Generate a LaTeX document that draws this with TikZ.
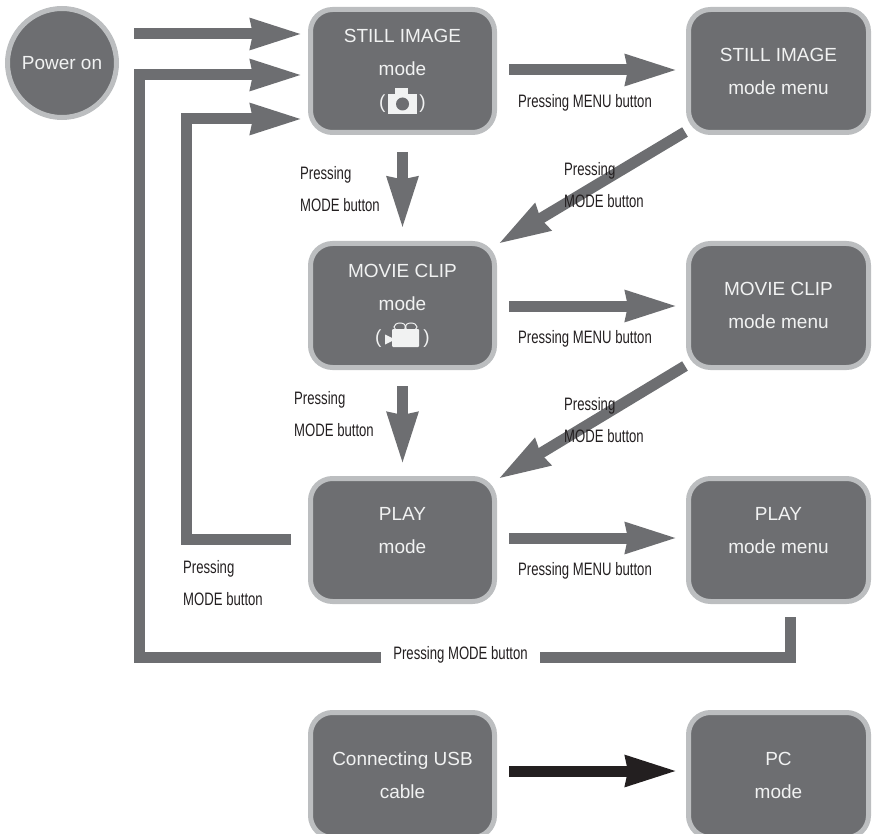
\documentclass[tikz,border=0pt]{standalone}
\usepackage{fontspec}
\setmainfont{Liberation Sans}
\newfontfamily\labfont[FakeStretch=0.73]{Liberation Sans}
\usetikzlibrary{arrows.meta}
\definecolor{gfill}{HTML}{6D6E71}
\definecolor{gedge}{HTML}{BCBEC0}
\definecolor{txtw}{HTML}{F1F2F2}
\definecolor{txtd}{HTML}{231F20}
\tikzset{
  box/.style={draw=gedge,fill=gfill,line width=5pt,rounded corners=22pt,text=txtw,align=center,inner sep=0pt,outer sep=0pt,
    font=\fontsize{19pt}{33pt}\selectfont},
  fat/.style={draw=gfill,line width=11pt,line join=miter,-{Stealth[length=51pt,width=29pt,inset=1.5pt]}},
  bar/.style={draw=gfill,line width=11pt,line join=miter},
  blk/.style={fat,draw=txtd},
  lab/.style={text=txtd,inner sep=0pt,align=left,font=\labfont\fontsize{18pt}{32pt}\selectfont},
}
\begin{document}
\begin{tikzpicture}[x=1pt,y=-1pt]
\useasboundingbox (0,0) rectangle (872,834);
\clip (0,0) rectangle (872,834);
\node[box,circle,minimum size=109pt] (power) at (62,63) {Power on};
\node[box,minimum width=184pt,minimum height=123pt] (still) at (402.5,71) {STILL IMAGE\\mode\\(\hspace{34pt})};
\node[box,minimum width=180pt,minimum height=123pt] (stillmenu) at (778.5,71) {STILL IMAGE\\mode menu};
\node[box,minimum width=184pt,minimum height=124pt] (movie) at (402.5,305.5) {MOVIE CLIP\\mode\\(\hspace{42pt})};
\node[box,minimum width=180pt,minimum height=124pt] (moviemenu) at (778.5,305.5) {MOVIE CLIP\\mode menu};
\node[box,minimum width=184pt,minimum height=123pt] (play) at (402.5,540) {PLAY\\mode\\[-13pt]\mbox{}};
\node[box,minimum width=180pt,minimum height=123pt] (playmenu) at (778.5,540) {PLAY\\mode menu\\[-13pt]\mbox{}};
\node[box,minimum width=184pt,minimum height=125pt,anchor=north] (usb) at (402.5,712.5) {Connecting USB\\cable};
\node[box,minimum width=180pt,minimum height=125pt,anchor=north] (pc) at (778.5,712.5) {PC\\mode};
% camera icon
\fill[txtw] (388,94) rectangle (417,114);
\fill[txtw] (395,88) rectangle (408,95);
\fill[gfill] (402.5,104) circle (6.5);
% movie camera icon
\fill[txtw,rounded corners=1pt] (392,329) rectangle (419,347);
\fill[txtw] (385,334.5) -- (392,338) -- (392,341) -- (385,344.5) -- cycle;
\draw[txtw,line width=1pt] (400,327) ellipse (6 and 4);
\draw[txtw,line width=1pt] (411,327) ellipse (6 and 4);
% helper coordinates
\coordinate (outer) at (139,657);
\coordinate (inner) at (186,300);
% connectors
\draw[fat] ([shift={(17.5,-29)}]power.east) -- ([shift={(-8,-37)}]still.west);
\draw[fat] ([shift={(12,15.5)}]playmenu.south) |- (outer) |- ([shift={(-8,4)}]still.west);
\draw[fat] ([shift={(-19.5,-1)}]play.west) -| (inner) |- ([shift={(-8,48)}]still.west);
\draw[fat] ([shift={(0,19.5)}]still.south) -- ([shift={(0,-14.5)}]movie.north);
\draw[fat] ([shift={(0,18.5)}]movie.south) -- ([shift={(0,-14)}]play.north);
\draw[fat] ([shift={(14.5,-1)}]still.east) -- ([shift={(-11,-1)}]stillmenu.west);
\draw[fat] ([shift={(14.5,0.5)}]movie.east) -- ([shift={(-11,0.5)}]moviemenu.west);
\draw[fat] ([shift={(14.5,-2)}]play.east) -- ([shift={(-11,-2)}]playmenu.west);
\draw[fat] ([shift={(-93.5,61)}]stillmenu.center) -- ([shift={(95.5,-61.5)}]movie.center);
\draw[fat] ([shift={(-93.5,60.5)}]moviemenu.center) -- ([shift={(95.5,-61)}]play.center);
\draw[blk] ([shift={(14.5,-4)}]usb.east) -- ([shift={(-11,-4)}]pc.west);
% labels
\node[lab,fill=white,align=center,minimum width=159pt,minimum height=24pt] (lbottom) at (460.5,655) {Pressing MODE button};
\node[lab,anchor=center,align=center] (m1) at (585,103) {Pressing MENU button};
\node[lab,anchor=center,align=center] (m2) at (585,339) {Pressing MENU button};
\node[lab,anchor=center,align=center] (m3) at (585,571) {Pressing MENU button};
\node[lab,anchor=west] (p1) at (300,189) {Pressing\\MODE button};
\node[lab,anchor=west] (p2) at (294,414.5) {Pressing\\MODE button};
\node[lab,anchor=west] (p3) at (183,583.5) {Pressing\\MODE button};
\node[lab,anchor=west] (p4) at (564,185.5) {Pressing\\MODE button};
\node[lab,anchor=west] (p5) at (564,420) {Pressing\\MODE button};
\end{tikzpicture}
\end{document}
